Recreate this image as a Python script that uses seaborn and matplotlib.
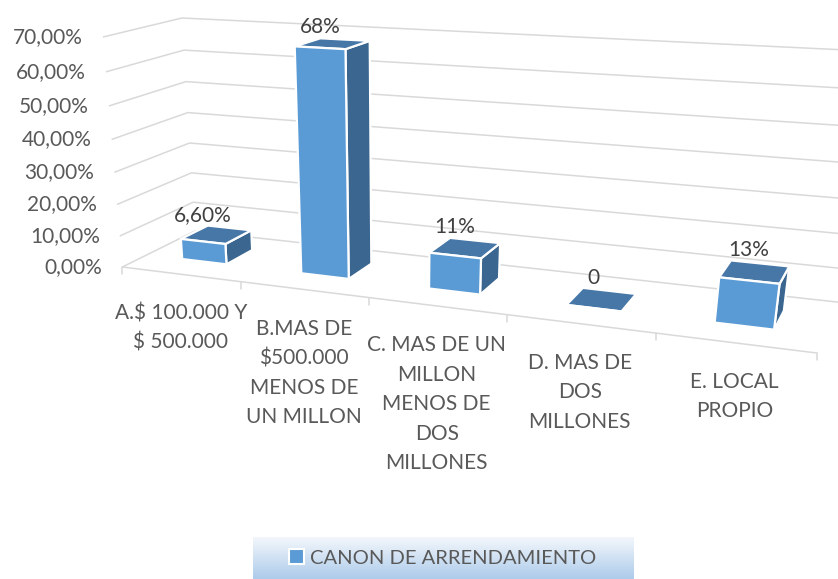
import numpy as np
import pandas as pd
import matplotlib
matplotlib.use("Agg")
import matplotlib.pyplot as plt
import matplotlib.transforms as mtransforms
from matplotlib.patches import Polygon, Rectangle
from matplotlib.colors import LinearSegmentedColormap
import seaborn as sns

# data
categories = [
    "A.$ 100.000 Y\n$ 500.000",
    "B.MAS DE\n$500.000\nMENOS DE\nUN MILLON",
    "C. MAS DE UN\nMILLON\nMENOS DE\nDOS\nMILLONES",
    "D. MAS DE\nDOS\nMILLONES",
    "E. LOCAL\nPROPIO",
]
values = [0.066, 0.68, 0.11, 0.0, 0.13]
value_labels = ["6,60%", "68%", "11%", "0", "13%"]
y_ticks = [0.0, 0.1, 0.2, 0.3, 0.4, 0.5, 0.6, 0.7]
y_tick_labels = ["0,00%", "10,00%", "20,00%", "30,00%", "40,00%", "50,00%", "60,00%", "70,00%"]
series_name = "CANON DE ARRENDAMIENTO"

W, H = 838, 579
FRONT, TOP, SIDE = "#5B9BD5", "#4677A7", "#3A6690"
GRID = "#D9D9D9"
TEXT = "#595959"

sns.set_theme(style="white")
plt.rcParams["font.family"] = ["Lato", "DejaVu Sans"]

# ---------------------------------------------------------------------------
# perspective camera, calibrated on the chart frame (walls and floor edge)
# world: X = category position, Y = value, Z = depth (0 front, 1 back wall)
# ---------------------------------------------------------------------------
frame_world = [(-0.5, 0, 0), (-0.5, 0.7, 0), (-0.5, 0.7, 1), (-0.5, 0, 1),
               (0.5, 0, 0), (1.5, 0, 0), (2.5, 0, 0), (3.5, 0, 0), (4.5, 0, 0)]
frame_px = [(122, 267), (103, 37), (182, 18), (195, 231),
            (242, 282), (369, 297), (507, 315), (655, 333), (817, 353)]

rows = []
for (X, Y, Z), (u, v) in zip(frame_world, frame_px):
    p = np.array([X, Y, Z, 1.0])
    u, v = u / 1000, v / 1000
    rows.append(np.concatenate([p, np.zeros(4), -u * p]))
    rows.append(np.concatenate([np.zeros(4), p, -v * p]))
cam = np.linalg.svd(np.array(rows))[2][-1].reshape(3, 4)


def project(X, Y, Z):
    X, Y, Z = np.broadcast_arrays(np.atleast_1d(np.asarray(X, float)),
                                  np.atleast_1d(np.asarray(Y, float)),
                                  np.atleast_1d(np.asarray(Z, float)))
    q = cam @ np.vstack([X.ravel(), Y.ravel(), Z.ravel(), np.ones(X.size)])
    return q[0] / q[2] * 1000, q[1] / q[2] * 1000


def point(X, Y, Z):
    u, v = project(X, Y, Z)
    return float(u[0]), float(v[0])


class PlaneTransform(mtransforms.Transform):
    """(category, value) on the plane Z=z  ->  figure fraction."""
    input_dims = output_dims = 2

    def __init__(self, z):
        super().__init__()
        self.z = z

    def transform_non_affine(self, xy):
        xy = np.asarray(xy, float)
        u, v = project(xy[:, 0], xy[:, 1], self.z)
        return np.column_stack([u / W, 1 - v / H])


fig = plt.figure(figsize=(W / 100, H / 100), dpi=100)
ax = fig.add_axes([0, 0, 1, 1])
px = mtransforms.Affine2D().scale(1 / W, -1 / H).translate(0, 1) + fig.transFigure

df = pd.DataFrame({"categoria": categories, "valor": values})
sns.barplot(data=df, x="categoria", y="valor", color=FRONT, saturation=1,
            width=0.38, ax=ax, zorder=5)
ax.set_axis_off()
ax.autoscale(False)

z0, z1 = 0.32, 0.70

# walls
for yv in y_ticks:
    u, v = project([-0.5, -0.5, 6.0], [yv] * 3, [0, 1, 1])
    ax.plot(u, v, color=GRID, lw=1.1, transform=px, zorder=1, solid_capstyle="butt")
u, v = project([-0.5, 4.5], [0, 0], [0, 0])
ax.plot(u, v, color=GRID, lw=1.1, transform=px, zorder=1)
for xt in np.arange(-0.5, 5.0, 1.0):
    u, v = point(xt, 0, 0)
    ax.plot([u, u], [v, v + 7], color=GRID, lw=1.1, transform=px, zorder=1)

# y labels
for yv, lab in zip(y_ticks, y_tick_labels):
    u, v = point(-0.5, yv, 0)
    ax.text(u - 20, v, lab, transform=px, ha="right", va="center",
            fontsize=15, color=TEXT)

# category labels
for i, lab in enumerate(categories):
    u, v = point(i, 0, 0)
    ax.text(u, v + 29, lab, transform=px, ha="center", va="top",
            fontsize=15, color=TEXT, linespacing=1.6)

# 3d bars
for patch, lab in zip(ax.patches, value_labels):
    x0, w, h = patch.get_x(), patch.get_width(), patch.get_height()
    x1 = x0 + w
    patch.set_transform(PlaneTransform(z0) + fig.transFigure)
    patch.set_edgecolor("white")
    patch.set_linewidth(1.6)
    side = np.column_stack(project([x1, x1, x1, x1], [0, h, h, 0], [z0, z0, z1, z1]))
    top = np.column_stack(project([x0, x1, x1, x0], [h, h, h, h], [z0, z0, z1, z1]))
    ax.add_patch(Polygon(side, closed=True, facecolor=SIDE, edgecolor="white",
                         lw=1.6, transform=px, zorder=4))
    ax.add_patch(Polygon(top, closed=True, facecolor=TOP, edgecolor="white",
                         lw=1.6, transform=px, zorder=4))
    u, _ = point(x0 + w / 2, h, z0)
    _, v = point(x0 + w / 2, h, z1)
    ax.text(u, v - 3, lab, transform=px, ha="center", va="bottom",
            fontsize=15, color="#404040")

# legend box with gradient
lax = fig.add_axes([253 / W, 0, 380 / W, 42 / H])
grad = np.linspace(0, 1, 64)[:, None]
cmap = LinearSegmentedColormap.from_list("leg", ["#F3F7FC", "#ADCBEA"])
lax.imshow(grad, aspect="auto", cmap=cmap, extent=[0, 1, 0, 1])
lax.set_axis_off()
handle = Rectangle((0, 0), 1, 1, facecolor=FRONT, edgecolor="white", lw=1.5)
lax.legend([handle], [series_name], loc="center", frameon=False,
           handlelength=0.75, handleheight=0.75, handletextpad=0.3,
           prop={"size": 14.5}, labelcolor=TEXT, borderaxespad=0)

fig.savefig("out.png", dpi=100)
